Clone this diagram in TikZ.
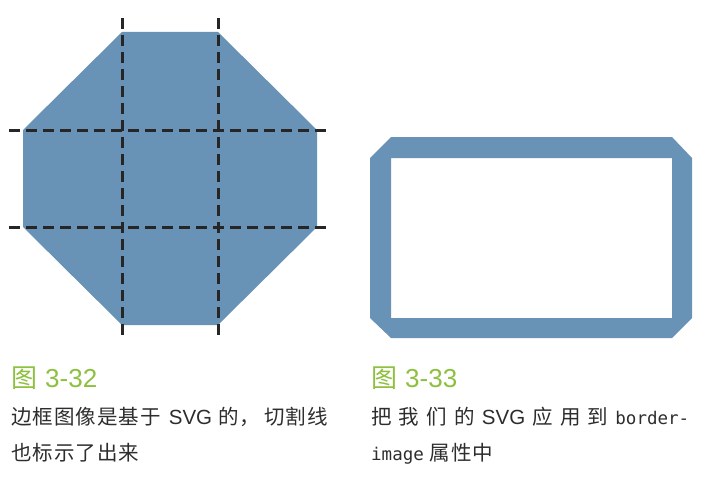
\documentclass[tikz,border=0pt]{standalone}
\usepackage{fontspec}
\newfontfamily\cjk{Noto Sans CJK SC}
\newfontfamily\cjkbody[LetterSpace=5]{Noto Sans CJK SC}
\newfontfamily\latinsans{Liberation Sans}
\setmonofont{DejaVu Sans Mono}
\newcommand{\codefont}[1]{{\ttfamily\fontsize{17.5}{24}\selectfont #1}}
\newcommand{\lat}[1]{{\latinsans #1}}
\definecolor{shapeblue}{RGB}{104,146,182}
\definecolor{titlegreen}{RGB}{141,192,62}
\definecolor{bodytext}{RGB}{45,45,45}
\definecolor{cutline}{RGB}{38,38,38}
\tikzset{
  cutdash/.style={draw=cutline, line width=3pt, dash pattern=on 11pt off 6pt},
  title/.style={anchor=base west, inner sep=0pt, text=titlegreen, font=\cjk\fontsize{26}{28}\selectfont},
  body/.style={anchor=base west, inner sep=0pt, text=bodytext, font=\cjkbody\fontsize{20.5}{24}\selectfont}
}
\begin{document}
\begin{tikzpicture}[x=1pt,y=-1pt]
\useasboundingbox (0,0) rectangle (708,476);
% octagon
\fill[shapeblue] (122,32) -- (218,32) -- (317,130) -- (317,227) -- (218,325) -- (122,325) -- (23,227) -- (23,130) -- cycle;
% cut lines
\draw[cutdash] (122,18) -- (122,338);
\draw[cutdash] (218,18) -- (218,338);
\draw[cutdash] (9,130) -- (331,130);
\draw[cutdash] (9,227) -- (331,227);
% frame
\fill[shapeblue, even odd rule]
  (391,137) -- (672,137) -- (692,158) -- (692,318) -- (672,338) -- (391,338) -- (370,318) -- (370,158) -- cycle
  (391,158) rectangle (672,318);
% captions
\node[title] (t1) at (11,387) {图\hspace{8pt}\lat{3-32}};
\node[body] (b1a) at (11,424) {边框图像是基于\hspace{8pt}\lat{SVG}\hspace{6pt}的，\hspace{4pt}切割线};
\node[body] (b1b) at (11,460) {也标示了出来};
\node[title] (t2) at (371,387) {图\hspace{8pt}\lat{3-33}};
\node[body] (b2a) at (371,424) {\makebox[318pt][s]{把 我 们 的 \lat{SVG} 应 用 到 \codefont{border-}}};
\node[body] (b2b) at (371,460) {\codefont{image} 属性中};
\end{tikzpicture}
\end{document}
